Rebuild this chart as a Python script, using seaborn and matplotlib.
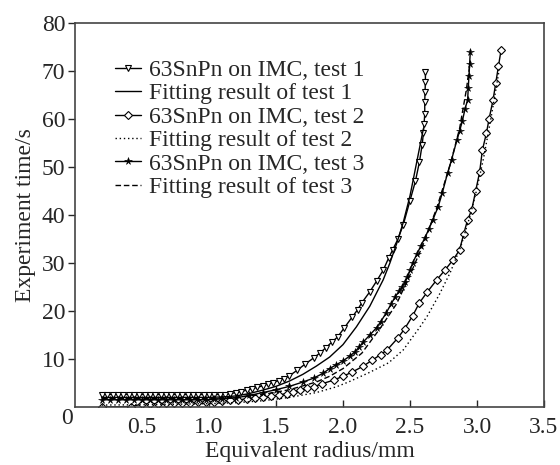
import matplotlib
matplotlib.use("Agg")
import matplotlib.pyplot as plt
import seaborn as sns
import numpy as np

# ---- data ----
t1_r = [0.20, 0.24, 0.28, 0.32, 0.36, 0.40, 0.44, 0.48, 0.52, 0.56, 0.60, 0.64,
        0.68, 0.72, 0.76, 0.80, 0.84, 0.88, 0.92, 0.96, 1.00, 1.04, 1.08, 1.12,
        1.16, 1.20, 1.24, 1.28, 1.32, 1.36, 1.40, 1.44, 1.48, 1.52, 1.56, 1.60,
        1.66, 1.72, 1.78, 1.83, 1.87, 1.92, 1.96, 2.01, 2.07, 2.11, 2.14, 2.20,
        2.25, 2.30, 2.34, 2.37, 2.41, 2.45, 2.50, 2.54, 2.57, 2.59, 2.60, 2.605,
        2.61, 2.61, 2.612, 2.615, 2.615]
t1_t = [2.6, 2.6, 2.6, 2.6, 2.6, 2.6, 2.6, 2.6, 2.6, 2.6, 2.6, 2.6,
        2.6, 2.6, 2.6, 2.6, 2.6, 2.6, 2.6, 2.6, 2.6, 2.6, 2.6, 2.6,
        2.8, 3.0, 3.2, 3.5, 3.8, 4.1, 4.4, 4.8, 5.1, 5.5, 5.9, 6.5,
        7.7, 9.0, 10.2, 11.3, 12.3, 13.6, 14.6, 16.5, 18.8, 20.3, 21.7, 24.0,
        26.2, 28.5, 31.0, 32.7, 35.0, 38.0, 43.0, 47.0, 51.0, 54.5, 57.0, 59.0,
        61.0, 63.5, 65.6, 67.7, 69.8]

f1_r = [0.20, 0.60, 1.00, 1.10, 1.20, 1.30, 1.40, 1.50, 1.60, 1.70, 1.80, 1.90,
        2.00, 2.10, 2.20, 2.30, 2.35, 2.40, 2.45, 2.50, 2.55, 2.60]
f1_t = [2.0, 2.0, 2.0, 2.1, 2.3, 2.8, 3.5, 4.3, 5.4, 6.8, 8.5, 10.4,
        13.0, 16.7, 21.0, 26.5, 30.0, 34.0, 38.5, 44.0, 51.0, 58.0]

t2_r = [0.20, 0.42, 0.50, 0.56, 0.62, 0.68, 0.74, 0.80, 0.86, 0.92, 0.98, 1.04,
        1.10, 1.16, 1.22, 1.28, 1.34, 1.40, 1.46, 1.52, 1.58, 1.63, 1.68, 1.73,
        1.78, 1.84, 1.93, 2.00, 2.07, 2.15, 2.22, 2.28, 2.33, 2.41, 2.46, 2.52,
        2.57, 2.63, 2.70, 2.76, 2.82, 2.87, 2.90, 2.93, 2.96, 2.99, 3.02, 3.04,
        3.07, 3.09, 3.12, 3.14, 3.16, 3.18]
t2_t = [0.0, 0.1, 0.6, 0.7, 0.7, 0.8, 0.8, 0.9, 0.9, 1.0, 1.0, 1.1,
        1.2, 1.4, 1.5, 1.7, 1.8, 2.0, 2.2, 2.5, 2.8, 3.1, 3.5, 3.9,
        4.2, 4.8, 5.6, 6.4, 7.3, 8.5, 9.8, 10.9, 11.9, 14.4, 16.3, 19.0,
        21.7, 24.0, 26.5, 28.5, 30.6, 32.7, 36.0, 39.0, 41.0, 45.0, 49.0, 53.5,
        57.0, 60.0, 64.0, 67.5, 71.0, 74.4]

f2_r = [0.20, 0.60, 1.00, 1.20, 1.40, 1.60, 1.80, 1.95, 2.04, 2.19, 2.34, 2.45,
        2.52, 2.57, 2.63, 2.72, 2.80, 2.88, 2.95, 3.00, 3.05, 3.10, 3.14, 3.17]
f2_t = [0.4, 0.5, 0.7, 0.9, 1.3, 2.0, 3.0, 4.2, 5.2, 7.1, 9.2, 11.9,
        14.6, 16.5, 19.0, 23.5, 28.0, 33.5, 40.0, 45.5, 52.0, 59.5, 66.0, 71.0]

t3_r = [0.20, 0.26, 0.32, 0.38, 0.44, 0.50, 0.56, 0.62, 0.68, 0.74, 0.80, 0.86,
        0.92, 0.98, 1.04, 1.10, 1.20, 1.30, 1.40, 1.50, 1.60, 1.70, 1.78, 1.85,
        1.90, 1.95, 2.00, 2.05, 2.09, 2.12, 2.15, 2.20, 2.25, 2.28, 2.32, 2.36,
        2.39, 2.42, 2.44, 2.46, 2.48, 2.50, 2.52, 2.55, 2.58, 2.61, 2.64, 2.67,
        2.71, 2.74, 2.78, 2.81, 2.85, 2.87, 2.89, 2.91, 2.93, 2.935, 2.94, 2.945,
        2.95]
t3_t = [1.5, 1.5, 1.5, 1.5, 1.5, 1.5, 1.5, 1.5, 1.5, 1.5, 1.5, 1.5,
        1.5, 1.5, 1.6, 1.7, 1.9, 2.4, 3.0, 3.6, 4.3, 5.2, 6.0, 7.0,
        8.0, 8.8, 9.6, 10.6, 11.5, 12.5, 13.5, 15.0, 16.5, 17.7, 19.5, 21.5,
        23.0, 24.2, 25.0, 26.0, 27.0, 28.5, 30.0, 31.8, 33.5, 35.2, 37.0, 39.0,
        41.7, 44.5, 48.7, 51.5, 55.6, 57.5, 59.5, 62.0, 64.0, 66.5, 69.0, 71.5,
        74.0]

f3_r = [0.20, 0.60, 1.00, 1.10, 1.20, 1.40, 1.60, 1.80, 1.90, 2.00, 2.14, 2.28,
        2.40, 2.50, 2.60, 2.70, 2.80, 2.87, 2.92, 2.95]
f3_t = [1.8, 1.8, 1.8, 1.9, 2.0, 2.6, 3.6, 5.2, 6.4, 8.0, 11.2, 16.5,
        21.5, 27.5, 34.0, 41.5, 50.5, 58.0, 66.0, 72.0]

labels = ["63SnPn on IMC, test 1", "Fitting result of test 1",
          "63SnPn on IMC, test 2", "Fitting result of test 2",
          "63SnPn on IMC, test 3", "Fitting result of test 3"]
xticks = [0.5, 1.0, 1.5, 2.0, 2.5, 3.0, 3.5]
yticks = [10, 20, 30, 40, 50, 60, 70, 80]

sns.set_style("ticks")
plt.rcParams['font.family'] = ['Liberation Serif', 'DejaVu Serif']

fig = plt.figure(figsize=(5.6, 4.65), dpi=100)
ax = fig.add_axes([75/560, 1-407/465, (544-75)/560, (407-23)/465])

lw = 1.0
common = dict(ax=ax, estimator=None, sort=False, color='black', linewidth=lw)
sns.lineplot(x=t1_r, y=t1_t, marker='v', markersize=5, markerfacecolor='white',
             markeredgecolor='black', markeredgewidth=0.8, label=labels[0], **common)
sns.lineplot(x=f1_r, y=f1_t, linestyle='-', label=labels[1], **common)
sns.lineplot(x=t2_r, y=t2_t, marker='D', markersize=4, markerfacecolor='white',
             markeredgecolor='black', markeredgewidth=0.8, label=labels[2], **common)
sns.lineplot(x=f2_r, y=f2_t, linestyle=(0, (1, 2)), label=labels[3], **common)
sns.lineplot(x=t3_r, y=t3_t, marker='*', markersize=5.5, markerfacecolor='black',
             markeredgecolor='black', markeredgewidth=0.4, label=labels[4], **common)
sns.lineplot(x=f3_r, y=f3_t, linestyle=(0, (4, 2)), label=labels[5], **common)

ax.set_xlim(0, 3.5)
ax.set_ylim(0, 80)
ax.set_xticks(xticks)
ax.set_xticklabels([f"{v:.1f}" for v in xticks])
ax.set_yticks(yticks)
ax.set_yticklabels([str(v) for v in yticks])
ax.tick_params(axis='x', direction='in', length=5, width=1.0, labelsize=17, pad=7)
ax.tick_params(axis='y', direction='out', length=5, width=1.0, labelsize=17, pad=2)
for s in ax.spines.values():
    s.set_visible(True)
    s.set_color('#444444')
    s.set_linewidth(1.2)

ax.text(-0.017, -0.03, "0", transform=ax.transAxes, ha='center', va='center', fontsize=17)

ax.set_xlabel("Equivalent radius/mm", fontsize=17, labelpad=2)
ax.set_ylabel("Experiment time/s", fontsize=17, labelpad=4)

leg = ax.legend(loc='upper left', bbox_to_anchor=(0.085, 0.905), frameon=False,
                fontsize=17, handlelength=1.1, handletextpad=0.35,
                labelspacing=0.08, borderpad=0.0, borderaxespad=0.0)

fig.savefig("out.png", dpi=100)
